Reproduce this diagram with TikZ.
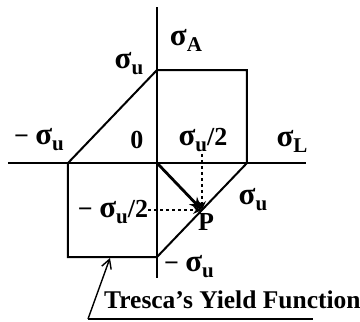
\documentclass[tikz,border=0pt]{standalone}
\usepackage{fontspec}
\setmainfont{Liberation Serif}
\usetikzlibrary{arrows.meta}

\newcommand{\sg}[1]{{\fontsize{31}{31}\selectfont σ}\raisebox{-6pt}{\fontsize{21}{21}\selectfont #1}}

\begin{document}
\begin{tikzpicture}[x=1pt, y=-1pt,
  lbl/.style={font=\fontsize{26}{28}\selectfont\bfseries, inner sep=0pt},
  axis/.style={line width=1.9pt},
  yield/.style={line width=2pt, line join=miter},
  guide/.style={dashed, line width=1.2pt, -{Stealth[length=9pt, width=8pt]}},
  load/.style={line width=2.8pt, -{Stealth[length=13pt, width=11pt]}},
  callout/.style={line width=1.4pt, -{Straight Barb[length=9pt, width=10pt]}}
]

\useasboundingbox (0,0) rectangle (360,322);

% Axes
\coordinate (O) at (157,163);
\draw[axis] (8,163) -- (306,163);
\draw[axis] (157,7) -- (157,278);

% Yield surface
\coordinate (A) at (157,70);
\coordinate (B) at (247,70);
\coordinate (C) at (247,163);
\coordinate (D) at (157,257);
\coordinate (E) at (68,257);
\coordinate (F) at (68,163);
\draw[yield] (A) -- (B) -- (C) -- (D) -- (E) -- (F) -- cycle;

% Labels
\node[lbl] (sA)    at (186,40)  {\sg{A}};
\node[lbl] (suT)   at (129,64)  {\sg{u}};
\node[lbl] (msuL)  at (39,140)  {− \sg{u}};
\node[lbl] (zero)  at (137,140) {0};
\node[lbl] (half)  at (203,140) {\sg{u}/2};
\node[lbl] (sL)    at (292,141) {\sg{L}};
\node[lbl] (suR)   at (253,200) {\sg{u}};
\node[lbl] (mhalf) at (113,212) {− \sg{u}/2};
\node[lbl] (pt)    at (206,222) {P};
\node[lbl] (msuB)  at (189,267) {− \sg{u}};

% Stress point
\coordinate (P) at (202,210);
\draw[load] (O) -- (P);
\draw[guide] (half.south -| P) ++(0,2) -- (P);
\draw[guide] (mhalf.east |- P) -- (P);

% Callout
\node[lbl, anchor=base west, font=\fontsize{25.5}{27}\selectfont\bfseries] (tresca) at (104,308) {Tresca’s Yield Function};
\coordinate (tail) at (88,319);
\coordinate (tip) at (110,258);
\draw[line width=1.4pt] (313,319) -- (tail);
\draw[callout] (tail) -- (tip);

\end{tikzpicture}
\end{document}
